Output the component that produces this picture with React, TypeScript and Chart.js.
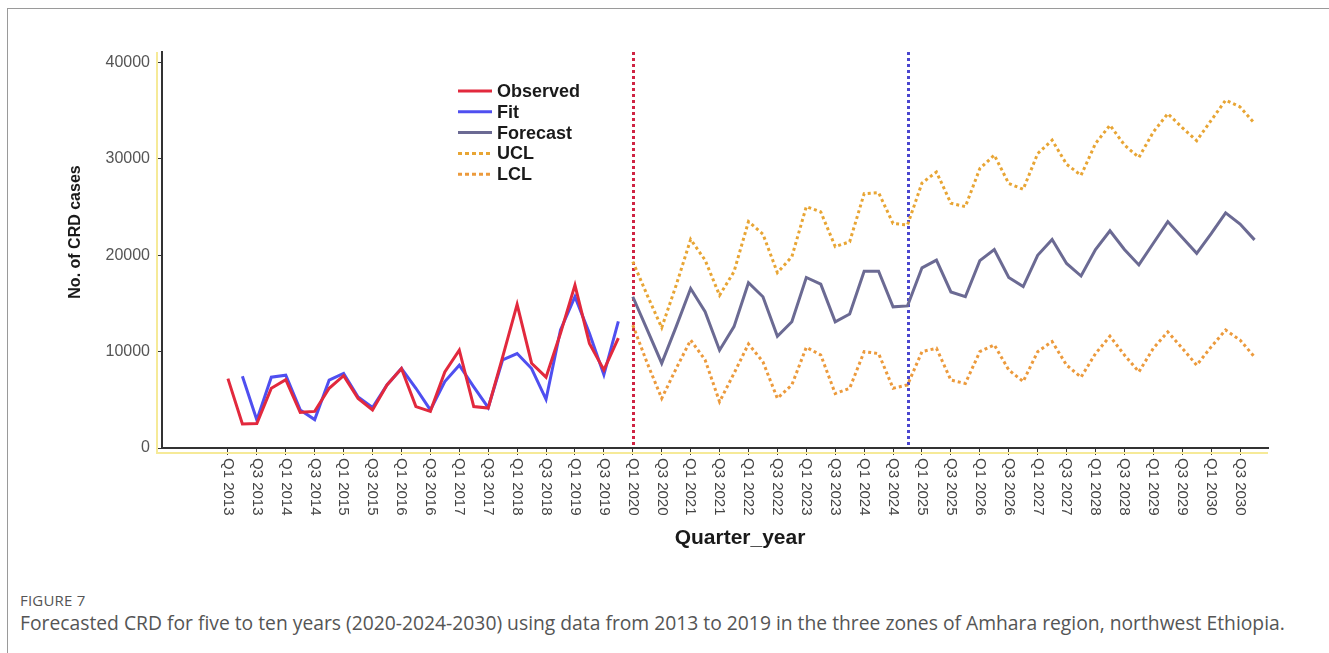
import React, { useEffect, useRef } from "react";
import { Chart, registerables } from "chart.js";

Chart.register(...registerables);

// Quarterly categories, Q1 2013 .. Q4 2030
const years = ["2013", "2014", "2015", "2016", "2017", "2018", "2019", "2020", "2021",
  "2022", "2023", "2024", "2025", "2026", "2027", "2028", "2029", "2030"];
const quarters = ["Q1", "Q2", "Q3", "Q4"];
const quarterLabels = years.flatMap((y) => quarters.map((q) => `${q} ${y}`));

// Only Q1 and Q3 are labelled on the axis
const xTickIndex = quarterLabels.map((_, i) => i).filter((i) => i % 2 === 0);
const yTickValues = [0, 10000, 20000, 30000, 40000];

// Observed and fitted cases, Q1 2013 .. Q4 2019
const observed = [7200, 2500, 2550, 6200, 7100, 3700, 3800, 6200, 7500, 5150, 3950, 6550,
  8250, 4300, 3800, 7900, 10150, 4300, 4150, 9450, 14900, 8800, 7350, 11900, 16900, 10850,
  8100, 11400];
const fit = [null, 7450, 2900, 7350, 7550, 3950, 2950, 7050, 7750, 5300, 4200, 6550, 8250,
  6200, 3950, 6900, 8600, 6350, 4200, 9150, 9800, 8250, 5050, 12250, 15700, 11900, 7600, 13150];

// Forecast with confidence limits, Q1 2020 .. Q4 2030
const forecastStart = 28;
const forecast = [15700, 12250, 8800, 12600, 16550, 14150, 10150, 12600, 17150, 15700, 11600,
  13100, 17700, 17000, 13100, 13900, 18350, 18350, 14650, 14750, 18700, 19500, 16200, 15700,
  19450, 20600, 17700, 16750, 20000, 21650, 19150, 17850, 20600, 22550, 20600, 19000, 21250,
  23500, 21850, 20200, 22250, 24400, 23250, 21600];
const ucl = [19350, 15850, 12500, 16900, 21650, 19500, 15850, 18300, 23500, 22200, 18200,
  19850, 25050, 24500, 20900, 21400, 26400, 26500, 23300, 23150, 27500, 28650, 25400, 25050,
  29000, 30400, 27450, 26850, 30550, 31950, 29450, 28300, 31600, 33500, 31450, 30150, 32800,
  34700, 33250, 31900, 34000, 36100, 35400, 33700];
const lcl = [12750, 8800, 5150, 8250, 11200, 9150, 4800, 7750, 10800, 8950, 5150, 6550, 10450,
  9650, 5650, 6200, 10000, 9800, 6200, 6550, 10000, 10350, 7050, 6700, 10000, 10700, 8100,
  6900, 10000, 11050, 8600, 7350, 9800, 11600, 9650, 7900, 10350, 12050, 10350, 8600, 10500,
  12250, 11200, 9450];

// Reference lines: start of forecast (Q1 2020) and Q4 2024
const markerLines = [
  { index: 28, color: "#cf2443" },
  { index: 47, color: "#4a46cf" },
];

const FONT = "'Liberation Sans', Arial, sans-serif";
const C_OBS = "#e2293d";
const C_FIT = "#4f4ff0";
const C_FC = "#6b6a93";
const C_UCL = "#e8a534";
const C_LCL = "#ec9a3c";

const toPoints = (vals: (number | null)[], start: number) =>
  vals.map((v, k) => ({ x: start + k, y: v }));

const legendItems = [
  { label: "Observed", color: C_OBS, dash: [] as number[] },
  { label: "Fit", color: C_FIT, dash: [] as number[] },
  { label: "Forecast", color: C_FC, dash: [] as number[] },
  { label: "UCL", color: C_UCL, dash: [4, 3] },
  { label: "LCL", color: C_LCL, dash: [4, 3] },
];

const decorPlugin = {
  id: "decor",
  beforeDatasetsDraw(chart: any) {
    const { ctx, scales, chartArea } = chart;
    const x = scales.x;
    ctx.save();
    ctx.lineWidth = 3;
    ctx.setLineDash([3, 3]);
    for (const m of markerLines) {
      const px = Math.round(x.getPixelForValue(m.index)) + 0.5;
      ctx.strokeStyle = m.color;
      ctx.beginPath();
      ctx.moveTo(px, chartArea.top);
      ctx.lineTo(px, chartArea.bottom);
      ctx.stroke();
    }
    ctx.restore();
  },
  afterDraw(chart: any) {
    const { ctx, scales, chartArea } = chart;
    const x = scales.x;
    ctx.save();

    // pale yellow frame lines beside the axes
    ctx.strokeStyle = "#f6ea98";
    ctx.lineWidth = 2;
    ctx.beginPath();
    ctx.moveTo(chartArea.left - 5, chartArea.top);
    ctx.lineTo(chartArea.left - 5, chartArea.bottom + 5);
    ctx.lineTo(chartArea.right, chartArea.bottom + 5);
    ctx.stroke();

    // x tick labels, read top to bottom
    ctx.fillStyle = "#444";
    ctx.font = `15px ${FONT}`;
    ctx.textAlign = "left";
    ctx.textBaseline = "middle";
    for (const i of xTickIndex) {
      const px = x.getPixelForValue(i);
      ctx.save();
      ctx.translate(px, chartArea.bottom + 10);
      ctx.rotate(Math.PI / 2);
      ctx.fillText(quarterLabels[i], 0, 0);
      ctx.restore();
    }

    // axis titles
    ctx.fillStyle = "#1a1a1a";
    ctx.font = `bold 21px ${FONT}`;
    ctx.textAlign = "center";
    ctx.textBaseline = "middle";
    ctx.fillText("Quarter_year", 740, 538);
    ctx.save();
    ctx.translate(76, 232);
    ctx.rotate(-Math.PI / 2);
    ctx.font = `bold 16px ${FONT}`;
    ctx.fillText("No. of CRD cases", 0, 0);
    ctx.restore();

    // legend
    const lx = 458;
    let ly = 91;
    ctx.font = `bold 18px ${FONT}`;
    ctx.textAlign = "left";
    for (const it of legendItems) {
      ctx.strokeStyle = it.color;
      ctx.lineWidth = 3;
      ctx.setLineDash(it.dash);
      ctx.beginPath();
      ctx.moveTo(lx, ly);
      ctx.lineTo(lx + 34, ly);
      ctx.stroke();
      ctx.setLineDash([]);
      ctx.fillStyle = "#1a1a1a";
      ctx.fillText(it.label, lx + 39, ly + 1);
      ly += 20.8;
    }
    ctx.restore();
  },
};

export default function App() {
  const canvasRef = useRef<HTMLCanvasElement | null>(null);

  useEffect(() => {
    const canvas = canvasRef.current;
    if (!canvas) return;
    const chart = new Chart(canvas, {
      type: "line",
      data: {
        datasets: [
          { label: "Observed", data: toPoints(observed, 0), borderColor: C_OBS, borderWidth: 3 },
          { label: "Fit", data: toPoints(fit, 0), borderColor: C_FIT, borderWidth: 3 },
          { label: "Forecast", data: toPoints(forecast, forecastStart), borderColor: C_FC, borderWidth: 3 },
          { label: "UCL", data: toPoints(ucl, forecastStart), borderColor: C_UCL, borderWidth: 3, borderDash: [3, 3] },
          { label: "LCL", data: toPoints(lcl, forecastStart), borderColor: C_LCL, borderWidth: 3, borderDash: [3, 3] },
        ],
      } as any,
      options: {
        animation: false,
        responsive: false,
        maintainAspectRatio: false,
        layout: { padding: { top: 52, right: 61, left: 0, bottom: 0 } },
        elements: { point: { radius: 0 }, line: { tension: 0, fill: false } },
        plugins: { legend: { display: false }, tooltip: { enabled: false } },
        scales: {
          x: {
            type: "linear",
            min: -4.56,
            max: 71.93,
            afterBuildTicks: (s: any) => {
              s.ticks = xTickIndex.map((v) => ({ value: v }));
            },
            afterFit: (s: any) => {
              s.height = 132;
            },
            ticks: { display: false },
            grid: { drawOnChartArea: false, drawTicks: true, tickLength: 7, color: "#333", lineWidth: 1 },
            border: { display: true, color: "#333", width: 2 },
          },
          y: {
            min: 0,
            max: 41100,
            afterBuildTicks: (s: any) => {
              s.ticks = yTickValues.map((v) => ({ value: v }));
            },
            afterFit: (s: any) => {
              s.width = 162;
            },
            ticks: {
              color: "#555",
              padding: 6,
              font: { family: FONT, size: 16 },
              callback: (v: any) => String(v),
            },
            grid: { drawOnChartArea: false, drawTicks: true, tickLength: 6, color: "#333", lineWidth: 1 },
            border: { display: true, color: "#333", width: 2 },
          },
        },
      } as any,
      plugins: [decorPlugin],
    });
    return () => chart.destroy();
  }, []);

  return (
    <div style={{ position: "fixed", left: 0, top: 0, width: 1329, height: 653, background: "#fff", overflow: "hidden" }}>
      <div style={{ position: "absolute", left: 7, top: 8, right: -2, bottom: -2, borderTop: "1px solid #9a9a9a", borderLeft: "1px solid #9a9a9a" }} />
      <canvas ref={canvasRef} width={1329} height={580} style={{ position: "absolute", left: 0, top: 0, width: 1329, height: 580 }} />
      <div style={{ position: "absolute", left: 20, top: 590, fontFamily: "'Open Sans', sans-serif", fontSize: 15, color: "#555", letterSpacing: 0.2 }}>
        FIGURE 7
      </div>
      <div style={{ position: "absolute", left: 20, top: 609, fontFamily: "'Open Sans', sans-serif", fontSize: 19.3, color: "#555", whiteSpace: "nowrap" }}>
        Forecasted CRD for five to ten years (2020-2024-2030) using data from 2013 to 2019 in the three zones of Amhara region, northwest Ethiopia.
      </div>
    </div>
  );
}
